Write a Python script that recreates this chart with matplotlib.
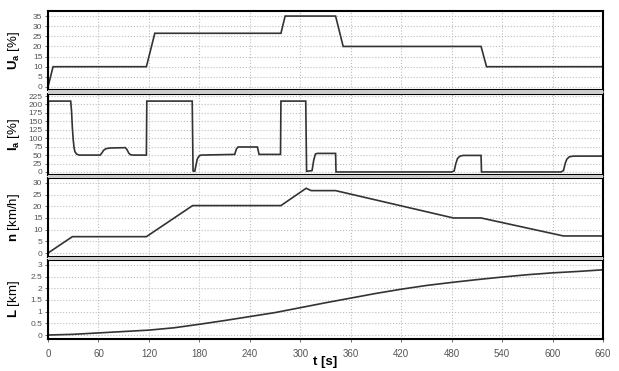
import matplotlib
matplotlib.use("Agg")
import matplotlib.pyplot as plt
from matplotlib.patches import Rectangle
from matplotlib.ticker import FuncFormatter

plt.rcParams["font.family"] = ["Liberation Sans", "DejaVu Sans"]
plt.rcParams["mathtext.fontset"] = "custom"
plt.rcParams["mathtext.rm"] = "Liberation Sans"
plt.rcParams["mathtext.bf"] = "Liberation Sans:bold"

# armature voltage [%]
t_ua = [0, 6, 117, 127, 277, 282, 342, 351, 515, 521.5, 660]
ua = [0, 10, 10, 26.5, 26.5, 35, 35, 20, 20, 10, 10]

# armature current [%]
t_ia = [0, 0.5, 27, 28, 29, 30, 31, 32, 34, 37, 62, 64, 66, 69, 74, 92, 94, 96, 98, 101,
        117, 117.5, 171.5, 172.5, 174.5, 176, 177.5, 179.5, 182, 222, 224, 226, 249, 251,
        276.5, 277, 306.5, 307.5, 314, 316, 318, 320, 342, 342.5, 480, 483, 485, 487, 490,
        494, 515, 515.5, 610, 613, 615, 617, 620, 625, 660]
ia = [0, 210, 210, 180, 130, 95, 72, 60, 53, 50, 50, 56, 64, 69, 71, 72, 66, 56, 51, 50,
      50, 210, 210, 3, 2, 20, 38, 47, 50, 52, 68, 74, 74, 52,
      52, 210, 210, 2, 4, 35, 53, 55, 55, 0, 0, 3, 25, 40, 47,
      49, 49, 0, 0, 4, 25, 38, 45, 47, 47]

# speed [km/h]
t_n = [0, 29, 117, 172, 277, 307, 313, 342, 482, 515, 613, 660]
n = [0, 7, 7, 20.3, 20.3, 27.7, 26.7, 26.7, 15, 15, 7.3, 7.3]

# distance [km]
t_l = [0, 30, 60, 90, 120, 150, 180, 210, 240, 270, 300, 330, 360, 390, 420, 450, 480,
       510, 540, 570, 600, 630, 660]
l_km = [0, 0.03, 0.09, 0.15, 0.21, 0.31, 0.46, 0.62, 0.79, 0.96, 1.17, 1.38, 1.58, 1.78,
        1.96, 2.12, 2.25, 2.37, 2.48, 2.58, 2.66, 2.72, 2.79]

x_ticks = list(range(0, 661, 60))

W, H = 619, 371
LEFT, RIGHT = 48, 603
# (top px, bottom px, ylim, yticks, label)
panels = [
    (11, 90, (-1.5, 37.5), range(0, 36, 5), r"$\mathbf{U_a}$ [%]"),
    (94, 175, (-9, 231), range(0, 226, 25), r"$\mathbf{I_a}$ [%]"),
    (178, 257, (-1.7, 32.1), range(0, 31, 5), r"$\mathbf{n}$ [km/h]"),
    (260, 339, (-0.17, 3.21), [0, 0.5, 1, 1.5, 2, 2.5, 3], r"$\mathbf{L}$ [km]"),
]
series = [(t_ua, ua), (t_ia, ia), (t_n, n), (t_l, l_km)]


def makeAxes(fig, top, bottom):
    rect = [LEFT / W, 1 - bottom / H, (RIGHT - LEFT) / W, (bottom - top) / H]
    return fig.add_axes(rect)


def main():
    fig = plt.figure(figsize=(W / 100, H / 100), dpi=100)

    axes = []
    for (top, bottom, ylim, yticks, label), (tx, vy) in zip(panels, series):
        ax = makeAxes(fig, top, bottom)
        ax.plot(tx, vy, color="#333333", linewidth=1.2, solid_joinstyle="miter")
        ax.set_xlim(0, 660)
        ax.set_ylim(*ylim)
        ax.set_xticks(x_ticks)
        ax.set_yticks(list(yticks))
        ax.yaxis.set_major_formatter(FuncFormatter(lambda v, p: f"{v:g}"))
        ax.grid(True, color="#bdbdbd", linestyle=":", linewidth=0.8)
        ax.set_axisbelow(True)
        ax.tick_params(axis="y", labelsize=6, labelcolor="#555555", length=2, width=0.6,
                       color="#555555", pad=2)
        ax.tick_params(axis="x", labelsize=7, labelcolor="#555555", length=2, width=0.6,
                       color="#555555", labelbottom=False)
        for sp in ax.spines.values():
            sp.set_linewidth(1.5)
            sp.set_color("black")
        fig.text(14 / W, 1 - (top + bottom) / 2 / H, label, rotation=90,
                 ha="center", va="center", fontsize=9.5)
        axes.append(ax)

    # grey separators between panels
    for (t1, b1, *_), (t2, b2, *_) in zip(panels[:-1], panels[1:]):
        fig.patches.append(Rectangle((LEFT / W, 1 - t2 / H), (RIGHT - LEFT) / W,
                                     (t2 - b1) / H, transform=fig.transFigure,
                                     facecolor="#cccccc", edgecolor="none", zorder=0))

    axes[-1].tick_params(axis="x", labelbottom=True, pad=5)
    fig.text((LEFT + RIGHT) / 2 / W, 1 - 362 / H, "t [s]", ha="center", va="center",
             fontsize=9.5, fontweight="bold")

    fig.savefig("out.png", dpi=100)


if __name__ == "__main__":
    main()
